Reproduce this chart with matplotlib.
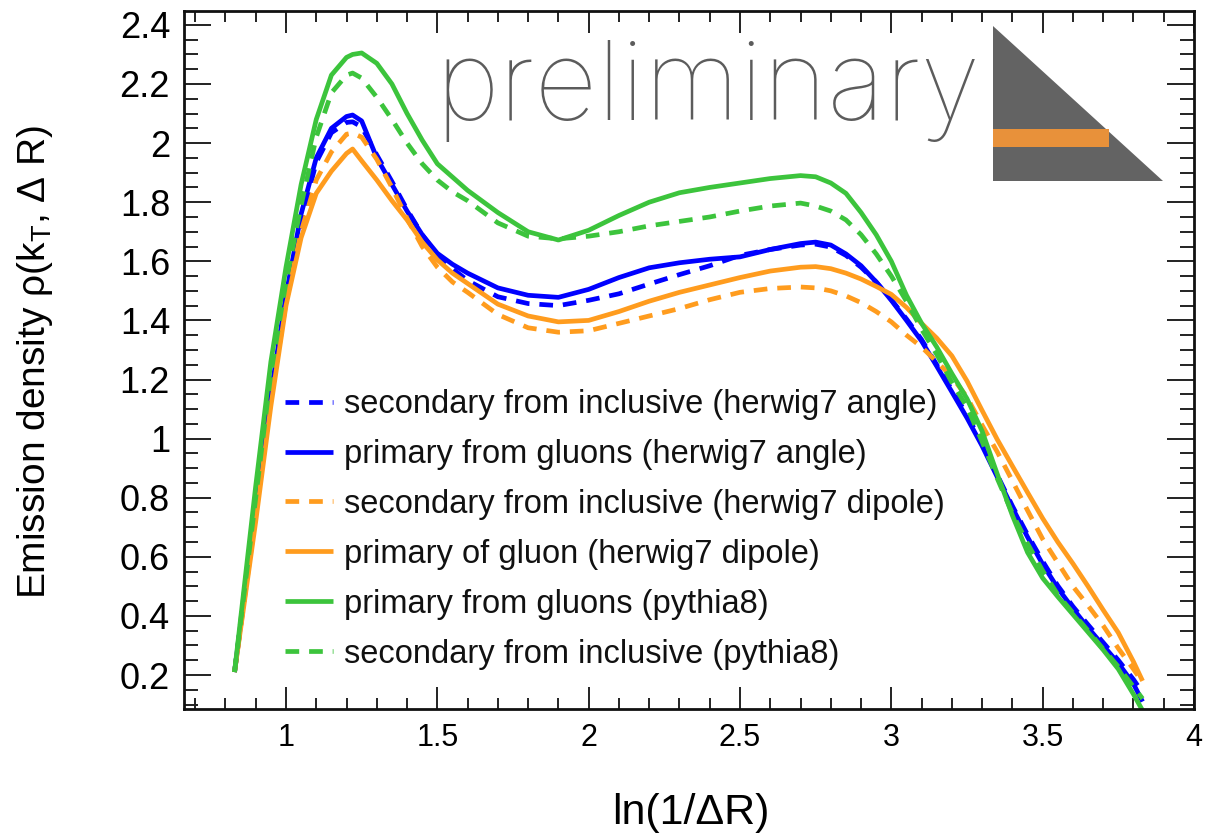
import matplotlib
matplotlib.use("Agg")
import matplotlib.pyplot as plt
from matplotlib import font_manager as fm
from matplotlib.patches import Polygon, Rectangle
from matplotlib.ticker import MultipleLocator, FormatStrFormatter

plt.rcParams['font.family'] = ['Liberation Sans', 'DejaVu Sans']
plt.rcParams['mathtext.fontset'] = 'custom'
plt.rcParams['mathtext.rm'] = 'Liberation Sans'
plt.rcParams['mathtext.it'] = 'Liberation Sans:italic'

# ln(1/dR) sampling points shared by all curves
ln_inv_dr = [0.83, 0.90, 0.95, 1.00, 1.05, 1.10, 1.15, 1.20, 1.22, 1.25, 1.30, 1.35,
             1.40, 1.45, 1.50, 1.55, 1.60, 1.70, 1.80, 1.90, 2.00, 2.10, 2.20, 2.30,
             2.40, 2.50, 2.60, 2.70, 2.75, 2.80, 2.85, 2.90, 2.95, 3.00, 3.05, 3.10,
             3.15, 3.20, 3.25, 3.30, 3.35, 3.40, 3.45, 3.50, 3.55, 3.60, 3.65, 3.70,
             3.75, 3.80, 3.83]

sec_incl_hw7_angle = [0.21, 0.76, 1.14, 1.47, 1.74, 1.935, 2.035, 2.07, 2.072, 2.055, 1.96, 1.87,
                      1.775, 1.69, 1.62, 1.575, 1.535, 1.48, 1.457, 1.45, 1.468, 1.49, 1.523, 1.555,
                      1.585, 1.62, 1.64, 1.655, 1.658, 1.648, 1.62, 1.58, 1.53, 1.47, 1.405, 1.335,
                      1.25, 1.165, 1.08, 0.982, 0.877, 0.772, 0.675, 0.585, 0.502, 0.432, 0.37, 0.31,
                      0.25, 0.185, 0.14]

prim_gluon_hw7_angle = [0.21, 0.77, 1.15, 1.485, 1.76, 1.95, 2.05, 2.09, 2.095, 2.075, 1.95, 1.86,
                        1.77, 1.69, 1.627, 1.59, 1.56, 1.51, 1.485, 1.478, 1.505, 1.545, 1.578, 1.595,
                        1.607, 1.615, 1.64, 1.66, 1.665, 1.655, 1.625, 1.585, 1.53, 1.468, 1.40, 1.33,
                        1.245, 1.158, 1.07, 0.975, 0.87, 0.766, 0.667, 0.575, 0.494, 0.425, 0.36, 0.30,
                        0.24, 0.17, 0.11]

sec_incl_hw7_dipole = [0.21, 0.74, 1.13, 1.46, 1.70, 1.875, 1.97, 2.03, 2.034, 2.02, 1.945, 1.85,
                       1.745, 1.65, 1.58, 1.53, 1.495, 1.42, 1.375, 1.36, 1.365, 1.39, 1.415, 1.44,
                       1.47, 1.495, 1.508, 1.513, 1.51, 1.50, 1.483, 1.46, 1.43, 1.395, 1.35, 1.31,
                       1.26, 1.21, 1.14, 1.045, 0.955, 0.857, 0.757, 0.66, 0.58, 0.50, 0.435, 0.367,
                       0.29, 0.22, 0.175]

prim_gluon_hw7_dipole = [0.21, 0.72, 1.11, 1.45, 1.68, 1.83, 1.905, 1.965, 1.98, 1.94, 1.875, 1.805,
                         1.74, 1.665, 1.605, 1.56, 1.525, 1.455, 1.415, 1.395, 1.40, 1.43, 1.465, 1.495,
                         1.52, 1.545, 1.567, 1.58, 1.582, 1.575, 1.56, 1.54, 1.515, 1.488, 1.444, 1.39,
                         1.34, 1.28, 1.195, 1.095, 0.997, 0.907, 0.818, 0.73, 0.65, 0.577, 0.50, 0.42,
                         0.343, 0.245, 0.18]

prim_gluon_py8 = [0.21, 0.84, 1.26, 1.58, 1.86, 2.08, 2.23, 2.29, 2.30, 2.305, 2.27, 2.20,
                  2.10, 2.01, 1.93, 1.885, 1.84, 1.765, 1.70, 1.672, 1.705, 1.755, 1.80, 1.832,
                  1.85, 1.865, 1.88, 1.89, 1.886, 1.865, 1.83, 1.765, 1.69, 1.60, 1.485, 1.39,
                  1.31, 1.22, 1.135, 1.025, 0.88, 0.74, 0.615, 0.528, 0.465, 0.405, 0.345, 0.285,
                  0.22, 0.135, 0.08]

sec_incl_py8 = [0.21, 0.80, 1.22, 1.53, 1.79, 2.02, 2.17, 2.23, 2.237, 2.22, 2.155, 2.08,
                2.00, 1.93, 1.875, 1.835, 1.805, 1.73, 1.685, 1.676, 1.685, 1.70, 1.72, 1.735,
                1.75, 1.77, 1.787, 1.797, 1.787, 1.77, 1.74, 1.69, 1.625, 1.55, 1.465, 1.37,
                1.285, 1.19, 1.107, 0.99, 0.865, 0.747, 0.645, 0.553, 0.472, 0.41, 0.35, 0.288,
                0.228, 0.16, 0.12]

labels = ["secondary from inclusive (herwig7 angle)",
          "primary from gluons (herwig7 angle)",
          "secondary from inclusive (herwig7 dipole)",
          "primary of gluon (herwig7 dipole)",
          "primary from gluons (pythia8)",
          "secondary from inclusive (pythia8)"]

BLUE = '#0000ff'
ORANGE = '#ff9c1e'
GREEN = '#3cc43c'
DASH = (0, (2.9, 2.1))
LW = 3.4

W, H = 1205, 834
fig = plt.figure(figsize=(W / 100, H / 100), dpi=100)
ax = fig.add_axes([184 / W, 1 - 709 / H, (1194 - 184) / W, (709 - 11) / H])

series = [
    (sec_incl_hw7_angle, BLUE, DASH),
    (prim_gluon_hw7_angle, BLUE, '-'),
    (sec_incl_hw7_dipole, ORANGE, DASH),
    (prim_gluon_hw7_dipole, ORANGE, '-'),
    (prim_gluon_py8, GREEN, '-'),
    (sec_incl_py8, GREEN, DASH),
]
handles = []
for (vals, col, ls), lab in zip(series, labels):
    h, = ax.plot(ln_inv_dr, vals, color=col, linestyle=ls, lw=LW, label=lab,
                 solid_capstyle='butt', dash_capstyle='butt', solid_joinstyle='round')
    handles.append(h)

ax.set_xlim(0.663, 4.0)
ax.set_ylim(0.085, 2.447)

ax.xaxis.set_major_locator(MultipleLocator(0.5))
ax.xaxis.set_minor_locator(MultipleLocator(0.1))
ax.yaxis.set_major_locator(MultipleLocator(0.2))
ax.yaxis.set_minor_locator(MultipleLocator(0.05))
ax.xaxis.set_major_formatter(FormatStrFormatter('%g'))
ax.yaxis.set_major_formatter(FormatStrFormatter('%g'))

ax.tick_params(axis='both', which='both', direction='in', top=True, right=True,
               width=1.4, color='#222222')
ax.tick_params(axis='x', which='major', length=15.8, labelsize=22, pad=10)
ax.tick_params(axis='x', which='minor', length=8)
ax.tick_params(axis='y', which='major', length=19.5, labelsize=26, pad=10)
ax.tick_params(axis='y', which='minor', length=10)
for sp in ax.spines.values():
    sp.set_linewidth(2.0)
    sp.set_color('#111111')

fig.text(35 / W, 1 - 362 / H, r'Emission density ρ(k$_{\mathrm{T}}$, Δ R)',
         rotation=90, ha='center', va='center', fontsize=28)
fig.text(691 / W, 1 - 813 / H, 'ln(1/ΔR)', ha='center', va='center', fontsize=31)

leg = ax.legend(handles=handles, loc='upper left',
                bbox_to_anchor=(285 / W, 1 - 389 / H), bbox_transform=fig.transFigure,
                frameon=False, fontsize=23.5, handlelength=1.47, handletextpad=0.33,
                labelspacing=0.58, borderpad=0, borderaxespad=0)
for t in leg.get_texts():
    t.set_color('#111111')


def lightest_font(families):
    best = None
    for f in fm.fontManager.ttflist:
        if f.name in families and f.style == 'normal':
            w = f.weight if isinstance(f.weight, int) else fm.weight_dict.get(f.weight, 400)
            if best is None or w < best[0]:
                best = (w, f.fname)
    return best[1] if best else None


fname = lightest_font(['Lato', 'Open Sans', 'Inter', 'Roboto', 'Noto Sans'])
fp = fm.FontProperties(fname=fname) if fname else fm.FontProperties(weight='light')
prelim = fig.text(435 / W, 1 - 120 / H, 'preliminary', fontproperties=fp, fontsize=72,
                  color='#5c5c5c', ha='left', va='baseline', zorder=6)
renderer = fig.canvas.get_renderer()
bb = prelim.get_window_extent(renderer)
prelim.set_fontsize(72 * 545 / bb.width)

# logo: grey right triangle with an orange bar
tri = Polygon([(993 / W, 1 - 26 / H), (993 / W, 1 - 181 / H), (1163 / W, 1 - 181 / H)],
              closed=True, transform=fig.transFigure, facecolor='#636363',
              edgecolor='none', zorder=6)
bar = Rectangle((993 / W, 1 - 147 / H), (1109 - 993) / W, 18 / H,
                transform=fig.transFigure, facecolor='#e8913a', edgecolor='none', zorder=7)
fig.add_artist(tri)
fig.add_artist(bar)

fig.savefig('out.png', dpi=100)
